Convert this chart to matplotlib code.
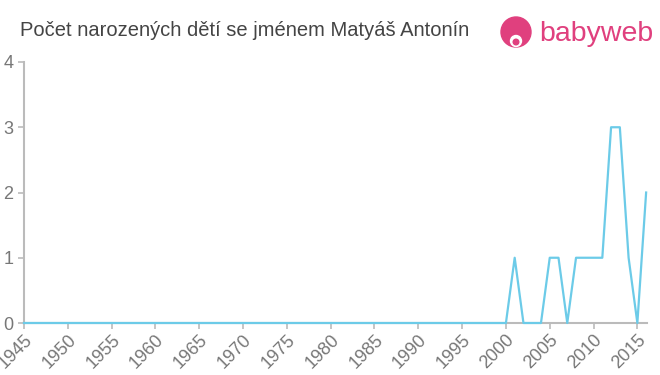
import matplotlib
matplotlib.use("Agg")
import matplotlib.pyplot as plt
from matplotlib.patches import Circle

plt.rcParams['font.family'] = ['Liberation Sans', 'DejaVu Sans']

years = list(range(1945, 2017))
counts = [0] * 56 + [1, 0, 0, 0, 1, 1, 0, 1, 1, 1, 1, 3, 3, 1, 0, 2]
xticks = list(range(1945, 2020, 5))
yticks = [0, 1, 2, 3, 4]
title = "Počet narozených dětí se jménem Matyáš Antonín"

fig = plt.figure(figsize=(6.6, 3.75), dpi=100)
ax = fig.add_axes([24 / 660, 1 - 323 / 375, (647 - 24) / 660, (323 - 62) / 375])

ax.plot(years, counts, color='#6ccbe8', linewidth=1.6, clip_on=False, zorder=3)

ax.set_xlim(1945, 2016.1)
ax.set_ylim(0, 4)
ax.set_xticks(xticks)
ax.set_xticklabels([str(x) for x in xticks], rotation=45, ha='right',
                   rotation_mode='anchor')
ax.set_yticks(yticks)

grey = '#bbbbbb'
for s in ['top', 'right']:
    ax.spines[s].set_visible(False)
for s in ['left', 'bottom']:
    ax.spines[s].set_color(grey)
    ax.spines[s].set_linewidth(1.5)
ax.tick_params(axis='both', colors=grey, length=4, width=1.2,
               labelsize=13, labelcolor='#777777')
ax.tick_params(axis='x', pad=2)

fig.text(20 / 660, 1 - 30 / 375, title, fontsize=14.5, color='#444444',
         va='center', ha='left')

# logo
pink = '#e0407e'
logo_ax = fig.add_axes([0, 0, 1, 1], facecolor='none')
logo_ax.set_xlim(0, 660)
logo_ax.set_ylim(375, 0)
logo_ax.axis('off')
logo_ax.add_patch(Circle((516, 32), 15, color=pink))
logo_ax.add_patch(Circle((516, 41), 5.5, color='white'))
logo_ax.add_patch(Circle((516, 42), 2.8, color=pink))
logo_ax.text(539, 34, "babyweb", fontsize=20.5, color=pink, va='center', ha='left')

fig.savefig("out.png", dpi=100)
